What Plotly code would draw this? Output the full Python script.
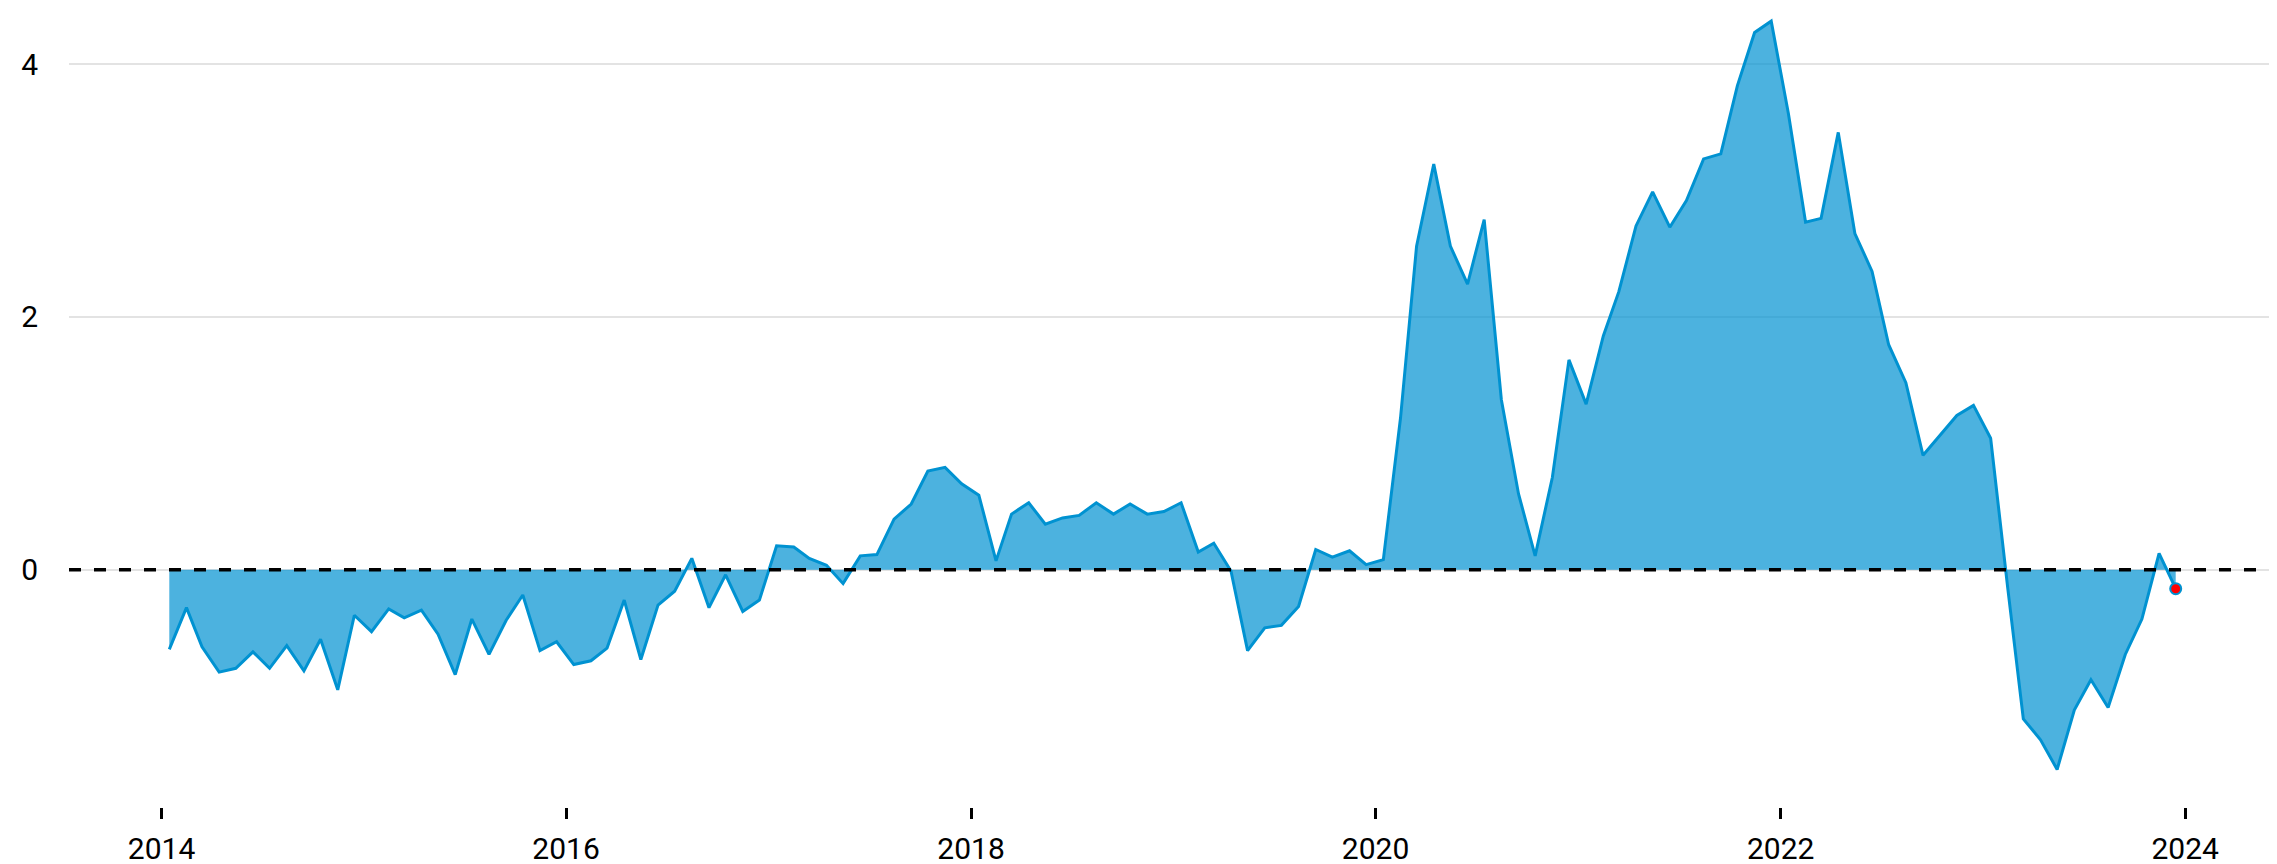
import pandas as pd
import plotly.graph_objects as go

start_month = "2014-01-01"
n_months = 120
values = [
    -0.63, -0.30, -0.61, -0.81, -0.78, -0.65, -0.78, -0.60, -0.80, -0.55, -0.95, -0.36,
    -0.49, -0.31, -0.38, -0.32, -0.51, -0.83, -0.39, -0.67, -0.40, -0.20, -0.64, -0.57,
    -0.75, -0.72, -0.62, -0.24, -0.71, -0.28, -0.17, 0.09, -0.30, -0.04, -0.33, -0.24,
    0.19, 0.18, 0.09, 0.035, -0.11, 0.11, 0.12, 0.40, 0.52, 0.78, 0.81, 0.68,
    0.59, 0.07, 0.44, 0.53, 0.36, 0.41, 0.43, 0.53, 0.44, 0.52, 0.44, 0.46,
    0.53, 0.14, 0.21, -0.01, -0.64, -0.46, -0.44, -0.29, 0.16, 0.10, 0.15, 0.04,
    0.08, 1.20, 2.56, 3.21, 2.56, 2.26, 2.77, 1.345, 0.60, 0.11, 0.73, 1.66,
    1.31, 1.85, 2.20, 2.72, 2.99, 2.71, 2.92, 3.25, 3.29, 3.83, 4.25, 4.34,
    3.61, 2.75, 2.78, 3.46, 2.66, 2.36, 1.78, 1.48, 0.905, 1.06, 1.22, 1.30,
    1.04, -0.15, -1.18, -1.345, -1.58, -1.11, -0.87, -1.09, -0.67, -0.39, 0.13, -0.15,
]
y_ticks = [0, 2, 4]
x_ticks = ["2014-01-01", "2016-01-01", "2018-01-01", "2020-01-01", "2022-01-01", "2024-01-01"]
x_tick_labels = ["2014", "2016", "2018", "2020", "2022", "2024"]

dates = pd.date_range(start_month, periods=n_months, freq="MS") + pd.Timedelta(days=14)

fig = go.Figure()
fig.add_trace(go.Scatter(
    x=dates, y=values, mode="lines", fill="tozeroy",
    line=dict(color="rgb(0,146,209)", width=3),
    fillcolor="rgba(0,146,209,0.7)",
    hoverinfo="skip", showlegend=False,
))
fig.add_trace(go.Scatter(
    x=[dates[-1]], y=[values[-1]], mode="markers",
    marker=dict(color="red", size=11, line=dict(color="rgb(0,146,209)", width=2)),
    hoverinfo="skip", showlegend=False,
))
fig.add_shape(type="line", xref="paper", x0=0, x1=1, yref="y", y0=0, y1=0,
              line=dict(color="black", width=3.5, dash="12px,13px"), layer="above")

fig.update_layout(
    width=2277, height=864,
    margin=dict(l=61, r=9, t=0, b=65),
    paper_bgcolor="white", plot_bgcolor="white",
    font=dict(family="Roboto", size=30, color="black"),
    xaxis=dict(
        type="date",
        range=["2013-07-18", "2024-06-13"],
        tickvals=x_ticks, ticktext=x_tick_labels,
        ticks="outside", ticklen=11, tickwidth=2.5, tickcolor="black",
        showgrid=False, zeroline=False, showline=False,
        ticklabelstandoff=4,
    ),
    yaxis=dict(
        range=[-1.877, 4.444],
        tickvals=y_ticks,
        showgrid=True, gridcolor="#e3e3e3", gridwidth=1.5,
        zeroline=False, showline=False,
        ticklabelstandoff=30,
    ),
)
fig.write_html("out.html")
